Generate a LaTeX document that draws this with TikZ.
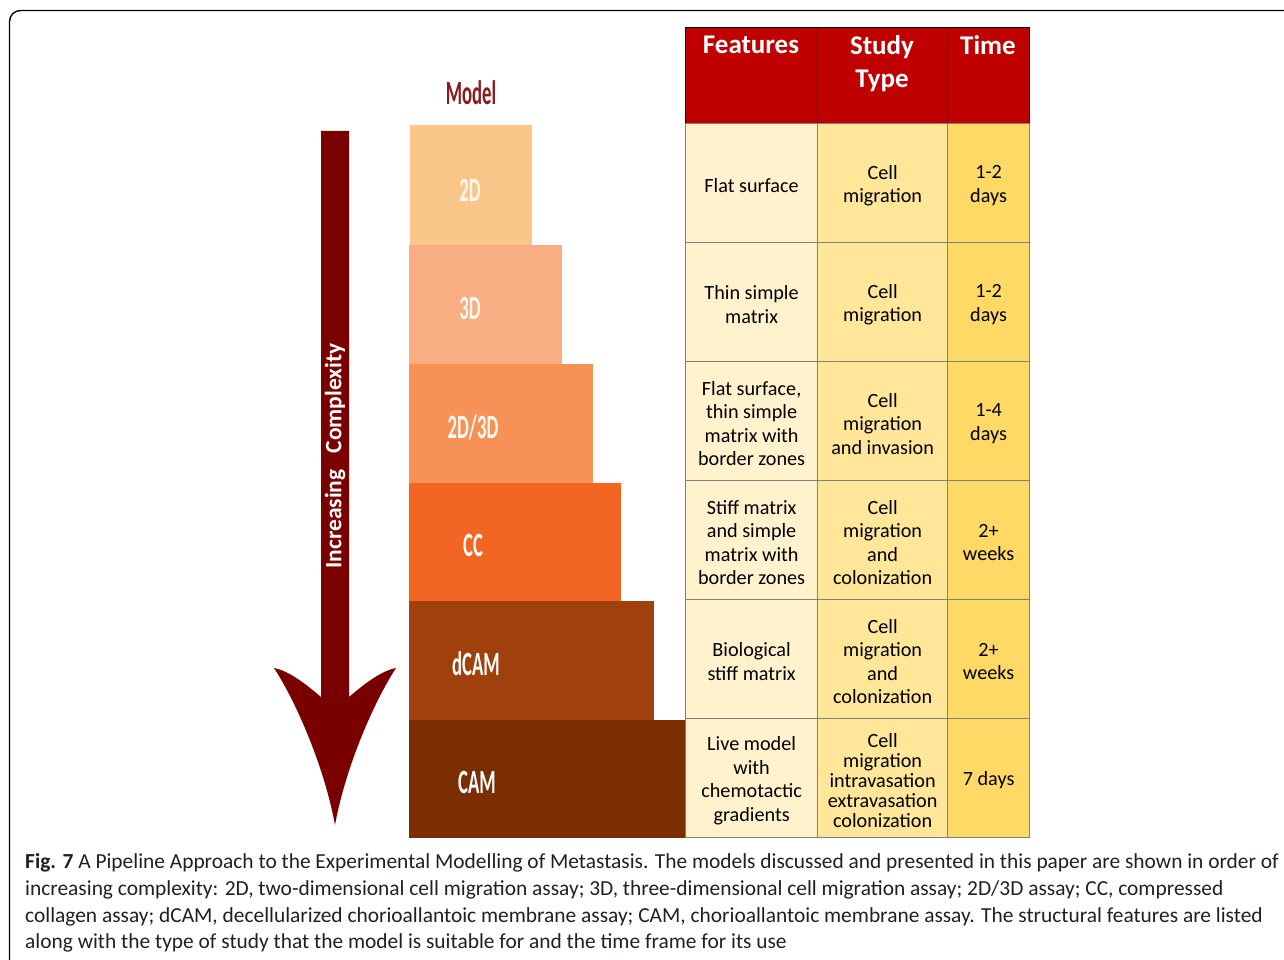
\documentclass[tikz,border=0pt]{standalone}
\usepackage{fontspec}
\setmainfont{Carlito}
\definecolor{hdr}{HTML}{C00000}
\definecolor{cA}{HTML}{FFF2CC}
\definecolor{cB}{HTML}{FFE699}
\definecolor{cC}{HTML}{FFD966}
\definecolor{grid}{HTML}{7F7F7F}
\definecolor{m1}{HTML}{FAC68A}
\definecolor{m2}{HTML}{F9AD82}
\definecolor{m3}{HTML}{F79256}
\definecolor{m4}{HTML}{F26522}
\definecolor{m5}{HTML}{A0410D}
\definecolor{m6}{HTML}{7B2E00}
\definecolor{arr}{HTML}{7A0000}
\definecolor{modeltxt}{HTML}{8B1A1A}
\definecolor{captxt}{HTML}{231F20}
\begin{document}
\begin{tikzpicture}[x=1pt,y=-1pt,
  modelbox/.style={rectangle,inner sep=0pt,outer sep=0pt,draw=none,anchor=north west},
  mlabel/.style={text=white,font=\fontsize{34}{34}\selectfont\bfseries,inner sep=0pt},
  hcell/.style={rectangle,fill=hdr,draw=black,line width=1pt,inner sep=0pt,anchor=north west},
  htext/.style={text=white,font=\fontsize{27}{33}\selectfont\bfseries,inner sep=0pt,anchor=north,align=center},
  bcell/.style={rectangle,draw=grid,line width=1.2pt,inner sep=0pt,anchor=north west,minimum height=119pt},
  colA/.style={bcell,fill=cA,minimum width=132pt},
  colB/.style={bcell,fill=cB,minimum width=130pt},
  colC/.style={bcell,fill=cC,minimum width=82pt},
  ctext/.style={inner sep=0pt,align=center,yshift=-2.5pt,font=\fontsize{20.2}{23.5}\selectfont},
  capline/.style={anchor=west,inner sep=0pt,text=captxt,font=\fontsize{21.4}{27}\selectfont}
]
\useasboundingbox (0,0) rectangle (1284,960);
\clip (0,0) rectangle (1284,960);
% frame
\draw[line width=1.4pt,rounded corners=11pt] (9.5,1000) |- (1320,10.5);

% model label
\node[text=modeltxt,font=\fontsize{34}{34}\selectfont\bfseries,inner sep=0pt] (model) at (471,93) {\scalebox{0.55}[1]{Model}};

% model boxes
\node[modelbox,fill=m1,minimum width=122pt,minimum height=119pt] (b1) at (410,125.5) {};
\node[modelbox,fill=m2,minimum width=153pt,minimum height=119pt] (b2) at (409,244.5) {};
\node[modelbox,fill=m3,minimum width=184pt,minimum height=119pt] (b3) at (409,363.5) {};
\node[modelbox,fill=m4,minimum width=212pt,minimum height=119pt] (b4) at (409,482.5) {};
\node[modelbox,fill=m5,minimum width=245pt,minimum height=119pt] (b5) at (409,601) {};
\node[modelbox,fill=m6,minimum width=276pt,minimum height=118pt] (b6) at (409,720) {};
\node[mlabel,text=white!94!orange] (l1) at (470,190) {\scalebox{0.55}[1]{2D}};
\node[mlabel,text=white!94!orange] (l2) at (470,308) {\scalebox{0.55}[1]{3D}};
\node[mlabel,text=white!96!orange] (l3) at (473,427) {\scalebox{0.55}[1]{2D/3D}};
\node[mlabel] (l4) at (473,545) {\scalebox{0.55}[1]{CC}};
\node[mlabel] (l5) at (476,664) {\scalebox{0.55}[1]{dCAM}};
\node[mlabel] (l6) at (477,782) {\scalebox{0.55}[1]{CAM}};

% arrow
\fill[arr] (321,131) -- (349,131) -- (349,697)
  .. controls (362,686) and (380,671) .. (396,668)
  .. controls (372,705) and (345,770) .. (335,825)
  .. controls (325,770) and (298,705) .. (274,668)
  .. controls (290,671) and (308,686) .. (321,697) -- cycle;
\node[rotate=90,text=white,font=\fontsize{23.5}{23.5}\selectfont\bfseries,inner sep=0pt] (inc) at (335,456) {Increasing\ \ \ Complexity};

% table header
\node[hcell,minimum width=132pt,minimum height=96pt] (h1) at (685,27) {};
\node[hcell,minimum width=130pt,minimum height=96pt] (h2) at (817,27) {};
\node[hcell,minimum width=82pt,minimum height=96pt] (h3) at (947,27) {};
\node[htext] (t1) at (751,36) {Features};
\node[htext] (t2) at (882,35.5) {Study\\Type};
\node[htext] (t3) at (988,35.5) {Time};

% rows
\node[colA] (r1a) at (685,123) {};
\node[colB] (r1b) at (817,123) {};
\node[colC] (r1c) at (947,123) {};
\node[colA] (r2a) at (685,242) {};
\node[colB] (r2b) at (817,242) {};
\node[colC] (r2c) at (947,242) {};
\node[colA] (r3a) at (685,361) {};
\node[colB] (r3b) at (817,361) {};
\node[colC] (r3c) at (947,361) {};
\node[colA] (r4a) at (685,480) {};
\node[colB] (r4b) at (817,480) {};
\node[colC] (r4c) at (947,480) {};
\node[colA] (r5a) at (685,599) {};
\node[colB] (r5b) at (817,599) {};
\node[colC] (r5c) at (947,599) {};
\node[colA] (r6a) at (685,718) {};
\node[colB] (r6b) at (817,718) {};
\node[colC] (r6c) at (947,718) {};

\node[ctext] (x1a) at (r1a.center) {Flat surface};
\node[ctext] (x1b) at (r1b.center) {Cell\\migration};
\node[ctext] (x1c) at (r1c.center) {1-2\\days};
\node[ctext] (x2a) at (r2a.center) {Thin simple\\matrix};
\node[ctext] (x2b) at (r2b.center) {Cell\\migration};
\node[ctext] (x2c) at (r2c.center) {1-2\\days};
\node[ctext] (x3a) at (r3a.center) {Flat surface,\\thin simple\\matrix with\\border zones};
\node[ctext] (x3b) at (r3b.center) {Cell\\migration\\and invasion};
\node[ctext] (x3c) at (r3c.center) {1-4\\days};
\node[ctext] (x4a) at (r4a.center) {Stiff matrix\\and simple\\matrix with\\border zones};
\node[ctext] (x4b) at (r4b.center) {Cell\\migration\\and\\colonization};
\node[ctext] (x4c) at (r4c.center) {2+\\weeks};
\node[ctext] (x5a) at (r5a.center) {Biological\\stiff matrix};
\node[ctext] (x5b) at (r5b.center) {Cell\\migration\\and\\colonization};
\node[ctext] (x5c) at (r5c.center) {2+\\weeks};
\node[ctext] (x6a) at (r6a.center) {Live model\\with\\chemotactic\\gradients};
\node[ctext,font=\fontsize{20.2}{20.2}\selectfont] (x6b) at (r6b.center) {Cell\\migration\\intravasation\\extravasation\\colonization};
\node[ctext] (x6c) at (r6c.center) {7 days};

% caption
\node[capline] (c1) at (25,863) {\textbf{Fig. 7} A Pipeline Approach to the Experimental Modelling of Metastasis. The models discussed and presented in this paper are shown in order of};
\node[capline] (c2) at (25,890) {increasing complexity: 2D, two-dimensional cell migration assay; 3D, three-dimensional cell migration assay; 2D/3D assay; CC, compressed};
\node[capline] (c3) at (25,917) {collagen assay; dCAM, decellularized chorioallantoic membrane assay; CAM, chorioallantoic membrane assay. The structural features are listed};
\node[capline] (c4) at (25,943) {along with the type of study that the model is suitable for and the time frame for its use};
\end{tikzpicture}
\end{document}
